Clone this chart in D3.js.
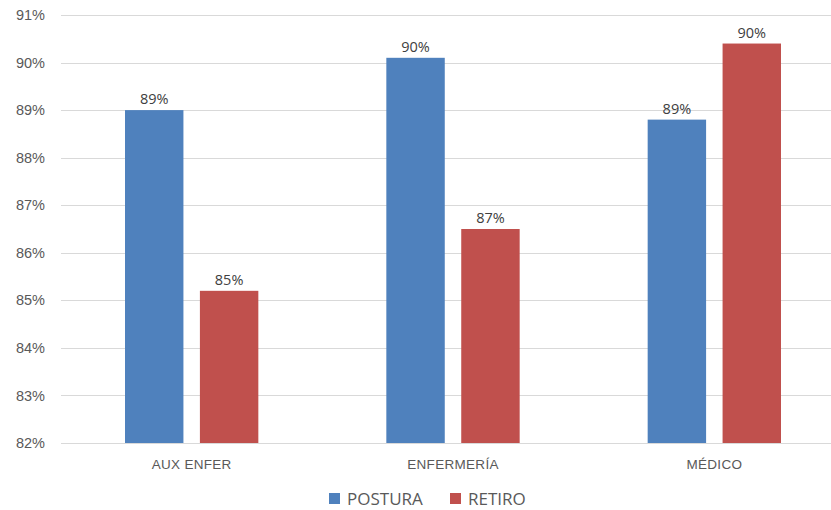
<!DOCTYPE html>
<html><head><meta charset="utf-8">
<script src="https://cdn.jsdelivr.net/npm/d3@7"></script>
<style>body{margin:0;background:#fff}svg{display:block;font-family:"Open Sans","Noto Sans",sans-serif}</style>
</head><body><svg id="c" width="831" height="510"></svg>
<script>
const categories = ["AUX ENFER", "ENFERMERÍA", "MÉDICO"];
const seriesNames = ["POSTURA", "RETIRO"];
const postura = [0.890, 0.901, 0.888];
const retiro = [0.852, 0.865, 0.904];
const yTicks = [0.82,0.83,0.84,0.85,0.86,0.87,0.88,0.89,0.90,0.91];
const colors = ["#4F81BD", "#C0504D"];

const svg = d3.select("#c");
const x0 = d3.scaleBand().domain(categories).range([61, 845]).paddingInner(0).paddingOuter(0);
const x1 = d3.scaleBand().domain(seriesNames).range([64, x0.bandwidth()-64]).paddingInner(0.22);
const y = d3.scaleLinear().domain([0.82, 0.91]).range([443, 15]);
const fmt = d3.format(".0%");

svg.append("g").selectAll("line").data(yTicks).join("line")
  .attr("x1", 61).attr("x2", 831)
  .attr("y1", d => Math.round(y(d))+0.5).attr("y2", d => Math.round(y(d))+0.5)
  .attr("stroke", "#D9D9D9").attr("stroke-width", 1);

const yAxis = d3.axisLeft(y).tickValues(yTicks).tickFormat(fmt).tickSize(0).tickPadding(0);
const ya = svg.append("g").attr("transform", "translate(45,0)").call(yAxis);
ya.select(".domain").remove();
ya.selectAll("text").attr("fill", "#595959").style("font-size", "14.5px");

const xAxis = d3.axisBottom(x0).tickSize(0).tickPadding(0);
const xa = svg.append("g").attr("transform", "translate(0,459)").call(xAxis);
xa.select(".domain").remove();
xa.selectAll("text").attr("fill", "#595959").style("font-size", "13.5px").style("letter-spacing", "0.3px").attr("dy", "0.71em");

const data = categories.map((c,i) => ({cat:c, vals:[{s:"POSTURA",v:postura[i]},{s:"RETIRO",v:retiro[i]}]}));
const g = svg.append("g").selectAll("g").data(data).join("g")
  .attr("transform", d => `translate(${x0(d.cat)},0)`);
g.selectAll("rect").data(d => d.vals).join("rect")
  .attr("x", d => x1(d.s)).attr("width", x1.bandwidth())
  .attr("y", d => y(d.v)).attr("height", d => y(0.82) - y(d.v))
  .attr("fill", (d,i) => colors[i]);
g.selectAll("text").data(d => d.vals).join("text")
  .attr("x", d => x1(d.s) + x1.bandwidth()/2).attr("y", d => y(d.v) - 6)
  .attr("text-anchor", "middle").attr("fill", "#404040").style("font-size", "14.5px")
  .text(d => fmt(d.v));

const legX = [329, 450];
const leg = svg.append("g").selectAll("g").data(seriesNames).join("g")
  .attr("transform", (d,i) => `translate(${legX[i]},493)`);
leg.append("rect").attr("width", 11).attr("height", 11).attr("fill", (d,i) => colors[i]);
leg.append("text").attr("x", 18).attr("y", 12)
  .attr("fill", "#595959").style("font-size", "17px").text(d => d);
</script></body></html>
